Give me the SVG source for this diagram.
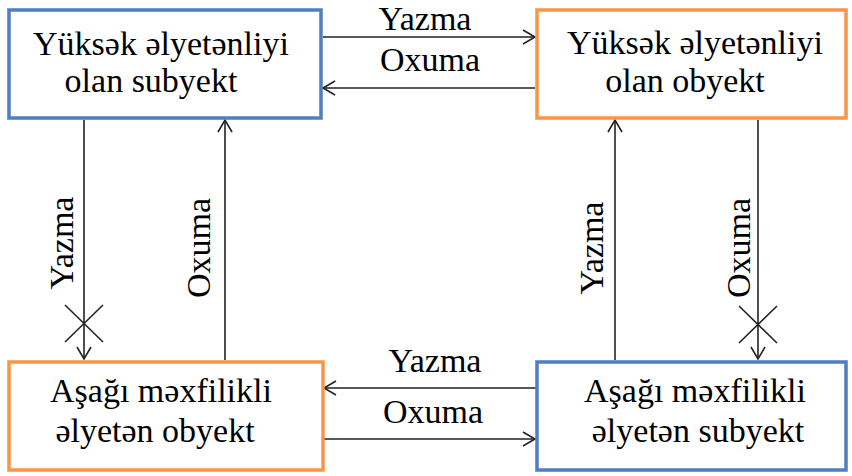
<svg xmlns="http://www.w3.org/2000/svg" width="852" height="476" viewBox="0 0 852 476">
<style>
.box{fill:#fff;stroke-width:3.5}
.blue{stroke:#4f7fbc}
.orange{stroke:#f79646}
.t{font-family:"Liberation Serif","Times New Roman",serif;font-size:34px;fill:#000;text-anchor:middle}
.c{stroke:#222;stroke-width:1.6;fill:none}
</style>
<defs>
<marker id="ah" viewBox="-14 -9 16 18" refX="0" refY="0" markerWidth="16" markerHeight="18" markerUnits="userSpaceOnUse" orient="auto">
<path d="M-12,-7 L0,0 L-12,7" fill="none" stroke="#222" stroke-width="1.6"/>
</marker>
</defs>
<rect width="852" height="476" fill="#fff"/>
<g id="connectors">
<line class="c" x1="323" y1="37" x2="535" y2="37" marker-end="url(#ah)"/>
<text class="t" x="425" y="30">Yazma</text>
<line class="c" x1="535" y1="88" x2="323" y2="88" marker-end="url(#ah)"/>
<text class="t" x="430" y="71">Oxuma</text>
<line class="c" x1="537" y1="388" x2="324" y2="388" marker-end="url(#ah)"/>
<text class="t" x="435" y="372">Yazma</text>
<line class="c" x1="324" y1="439" x2="535" y2="439" marker-end="url(#ah)"/>
<text class="t" x="433" y="423">Oxuma</text>
<line class="c" x1="84" y1="120" x2="84" y2="359" marker-end="url(#ah)"/>
<path class="c" d="M65,305 L103,342 M103,305 L65,342"/>
<text class="t" transform="translate(73,243) rotate(-90)">Yazma</text>
<line class="c" x1="225" y1="360" x2="225" y2="120" marker-end="url(#ah)"/>
<text class="t" transform="translate(210,248) rotate(-90)">Oxuma</text>
<line class="c" x1="615" y1="360" x2="615" y2="120" marker-end="url(#ah)"/>
<text class="t" transform="translate(603,248) rotate(-90)">Yazma</text>
<line class="c" x1="758" y1="120" x2="758" y2="359" marker-end="url(#ah)"/>
<path class="c" d="M739,306 L777,343 M777,306 L739,343"/>
<text class="t" transform="translate(750,248) rotate(-90)">Oxuma</text>
</g>
<g id="high-subject">
<rect class="box blue" x="9" y="10" width="312" height="108"/>
<text class="t" x="161" y="55">Yüksək əlyetənliyi</text>
<text class="t" x="151" y="92">olan subyekt</text>
</g>
<g id="high-object">
<rect class="box orange" x="537" y="10" width="309" height="108"/>
<text class="t" x="695" y="54">Yüksək əlyetənliyi</text>
<text class="t" x="685" y="92">olan obyekt</text>
</g>
<g id="low-object">
<rect class="box orange" x="9" y="362" width="314" height="108"/>
<text class="t" x="161" y="402">Aşağı məxfilikli</text>
<text class="t" x="155" y="442">əlyetən obyekt</text>
</g>
<g id="low-subject">
<rect class="box blue" x="537" y="362" width="309" height="108"/>
<text class="t" x="695" y="402">Aşağı məxfilikli</text>
<text class="t" x="698" y="442">əlyetən subyekt</text>
</g>
</svg>
